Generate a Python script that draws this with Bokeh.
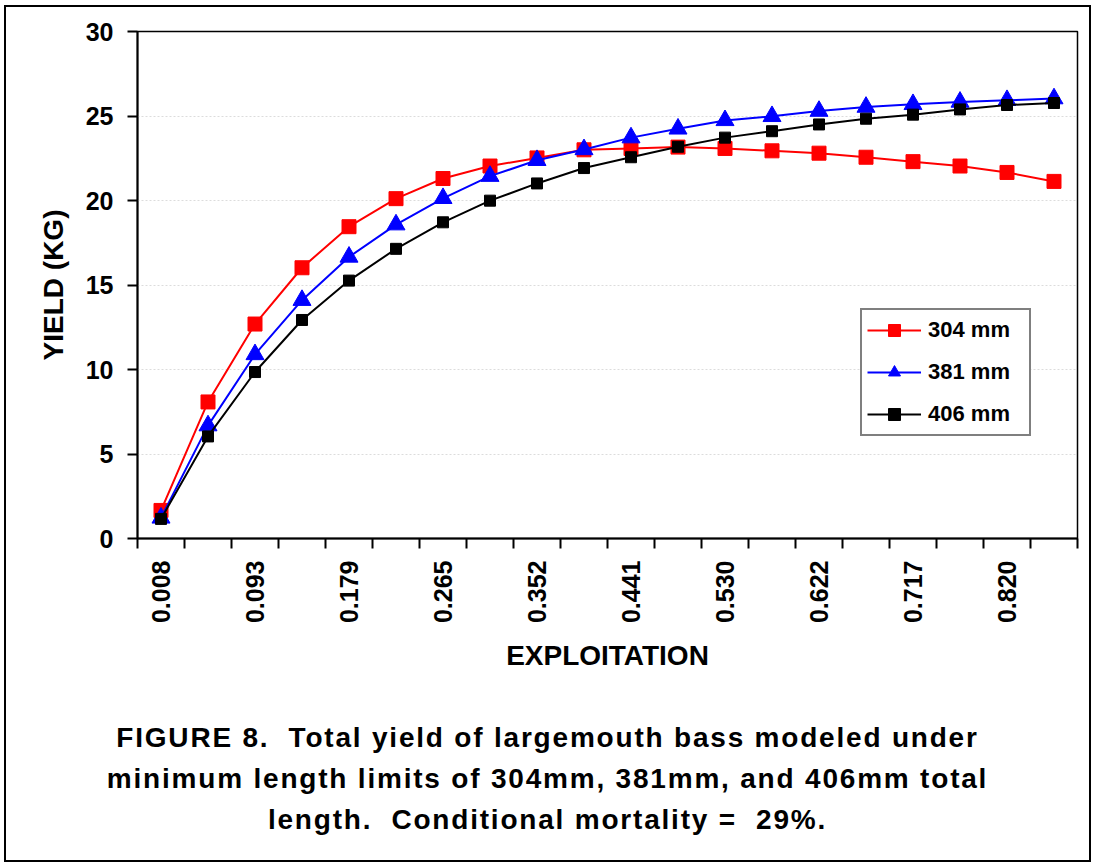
import math
from bokeh.plotting import figure
from bokeh.models import (Range1d, FixedTicker, Legend, LegendItem, Div)
from bokeh.layouts import column
from bokeh.embed import file_html
from bokeh.resources import INLINE

# ---- data ----
exploitation = ["0.008", "0.050", "0.093", "0.136", "0.179", "0.222", "0.265", "0.308",
                "0.352", "0.396", "0.441", "0.485", "0.530", "0.576", "0.622", "0.669",
                "0.717", "0.768", "0.820", "0.873"]
yield_304 = [1.66, 8.08, 12.69, 16.02, 18.45, 20.11, 21.30, 22.04, 22.52, 23.00,
             23.08, 23.16, 23.08, 22.94, 22.80, 22.56, 22.30, 22.04, 21.66, 21.13]
yield_381 = [1.22, 6.68, 10.89, 14.10, 16.66, 18.57, 20.13, 21.44, 22.38, 23.02,
             23.72, 24.24, 24.74, 24.98, 25.29, 25.53, 25.69, 25.83, 25.93, 26.03]
yield_406 = [1.16, 6.04, 9.85, 12.93, 15.26, 17.14, 18.71, 19.99, 21.01, 21.92,
             22.56, 23.18, 23.72, 24.10, 24.50, 24.84, 25.08, 25.39, 25.65, 25.77]
series_labels = ["304 mm", "381 mm", "406 mm"]
y_ticks = [0, 5, 10, 15, 20, 25, 30]
caption_lines = ["FIGURE 8.&nbsp; Total yield of largemouth bass modeled under",
                 "minimum length limits of 304mm, 381mm, and 406mm total",
                 "length.&nbsp; Conditional mortality = &nbsp;29%."]

FONT = "Liberation Sans"
n = len(exploitation)
xpos = [i + 0.5 for i in range(n)]

BORDER = 2
W = 1083          # inner width (inside the outer border)
INNER_H = 853
FIG_H = 680
DIV_H = INNER_H - FIG_H

p = figure(width=W, height=FIG_H, x_range=Range1d(0, n), y_range=Range1d(0, 30),
           output_backend="svg", toolbar_location=None, title=None,
           min_border_left=131, min_border_top=24, min_border_right=12, min_border_bottom=149)
p.background_fill_color = "white"
p.border_fill_color = "white"
p.outline_line_color = "black"
p.outline_line_width = 1.5

# grid
p.xgrid.visible = False
p.ygrid.grid_line_color = "#dcdcdc"
p.ygrid.grid_line_width = 1
p.ygrid.grid_line_dash = "2 2"

# y axis
ya = p.yaxis[0]
ya.ticker = FixedTicker(ticks=y_ticks)
ya.axis_line_width = 2
ya.major_tick_line_width = 2
ya.major_tick_out = 10
ya.major_tick_in = 0
ya.minor_tick_line_color = None
ya.major_label_text_font = FONT
ya.major_label_text_font_style = "bold"
ya.major_label_text_font_size = "25px"
ya.major_label_text_color = "black"
ya.major_label_standoff = 14
ya.axis_label = "YIELD (KG)"
ya.axis_label_text_font = FONT
ya.axis_label_text_font_style = "bold"
ya.axis_label_text_font_size = "28px"
ya.axis_label_text_color = "black"
ya.axis_label_standoff = 14

# x axis: labels at every other category centre, tick marks at category boundaries
xa = p.xaxis[0]
xa.ticker = FixedTicker(ticks=xpos[::2], minor_ticks=list(range(n + 1)))
xa.major_label_overrides = {xpos[i]: exploitation[i] for i in range(0, n, 2)}
xa.axis_line_width = 2
xa.major_tick_line_color = None
xa.major_tick_out = 10
xa.major_tick_in = 0
xa.minor_tick_line_color = "black"
xa.minor_tick_line_width = 2
xa.minor_tick_out = 10
xa.minor_tick_in = 0
xa.major_label_orientation = math.pi / 2
xa.major_label_text_font = FONT
xa.major_label_text_font_style = "bold"
xa.major_label_text_font_size = "25px"
xa.major_label_text_color = "black"
xa.major_label_standoff = 12
xa.axis_label = "EXPLOITATION"
xa.axis_label_text_font = FONT
xa.axis_label_text_font_style = "bold"
xa.axis_label_text_font_size = "28px"
xa.axis_label_text_color = "black"
xa.axis_label_standoff = 14

# series
l1 = p.line(xpos, yield_304, line_color="red", line_width=2)
s1 = p.scatter(xpos, yield_304, marker="square", size=14, fill_color="red", line_color="red")
l2 = p.line(xpos, yield_381, line_color="blue", line_width=2)
s2 = p.scatter(xpos, yield_381, marker="triangle", size=18, fill_color="blue", line_color="blue")
l3 = p.line(xpos, yield_406, line_color="black", line_width=2)
s3 = p.scatter(xpos, yield_406, marker="square", size=11, fill_color="black", line_color="black")

legend = Legend(items=[LegendItem(label=series_labels[0], renderers=[l1, s1]),
                       LegendItem(label=series_labels[1], renderers=[l2, s2]),
                       LegendItem(label=series_labels[2], renderers=[l3, s3])],
                location=(723, 102))
legend.border_line_color = "black"
legend.border_line_width = 2
legend.background_fill_color = "white"
legend.background_fill_alpha = 1
legend.label_text_font = FONT
legend.label_text_font_style = "bold"
legend.label_text_font_size = "22px"
legend.label_text_color = "black"
legend.glyph_width = 54
legend.glyph_height = 30
legend.label_height = 30
legend.label_width = 96
legend.spacing = 12
legend.padding = 5
legend.margin = 0
legend.label_standoff = 7
p.add_layout(legend)

# caption below the chart
cap_html = ('<div style="width:%dpx;box-sizing:border-box;text-align:center;font-family:\'%s\';'
            'font-weight:bold;font-size:28px;line-height:41px;letter-spacing:1.8px;color:black;'
            'padding-top:30px;margin:0;">' % (W, FONT) + "<br>".join(caption_lines) + "</div>")
cap = Div(text=cap_html, width=W, height=DIV_H,
          styles={"background-color": "white", "overflow": "hidden", "margin": "0", "padding": "0"})

page = column(p, cap, spacing=0,
              styles={"border": "%dpx solid black" % BORDER, "background-color": "white",
                      "position": "relative", "left": "4px", "top": "5px"})

open("out.html", "w").write(file_html(page, INLINE))
